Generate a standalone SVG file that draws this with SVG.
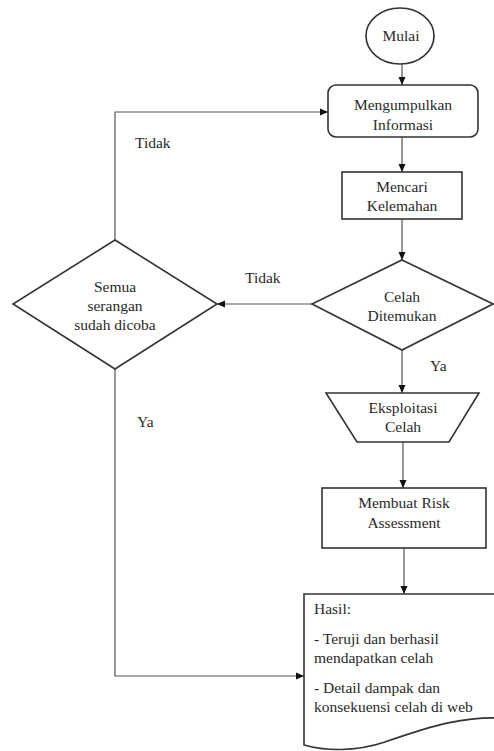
<svg xmlns="http://www.w3.org/2000/svg" width="494" height="751" viewBox="0 0 494 751" font-family="'Liberation Serif', 'Times New Roman', Tinos, 'DejaVu Serif', serif" font-size="15.5">
<style>
.s{fill:#fff;stroke:#333;stroke-width:1.6}
.c{fill:none;stroke:#555;stroke-width:1.2}
.t{fill:#2a2a2a}
.m{text-anchor:middle}
</style>
<defs>
<marker id="a" viewBox="0 0 8 8" refX="8" refY="4" markerWidth="8" markerHeight="8" markerUnits="userSpaceOnUse" orient="auto">
<path d="M0,0.5 L8,4 L0,7.5 Z" fill="#111"/>
</marker>
</defs>
<rect width="494" height="751" fill="#fff"/>
<g id="connectors">
<line class="c" x1="402" y1="64" x2="402" y2="85" marker-end="url(#a)"/>
<line class="c" x1="402" y1="137" x2="402" y2="172" marker-end="url(#a)"/>
<line class="c" x1="402" y1="219" x2="402" y2="260" marker-end="url(#a)"/>
<line class="c" x1="312" y1="304" x2="217" y2="304" marker-end="url(#a)"/>
<line class="c" x1="402" y1="350" x2="402" y2="393" marker-end="url(#a)"/>
<line class="c" x1="403" y1="442" x2="403" y2="488" marker-end="url(#a)"/>
<line class="c" x1="404" y1="548" x2="404" y2="594" marker-end="url(#a)"/>
<polyline class="c" points="115,240 115,112 328,112" marker-end="url(#a)"/>
<polyline class="c" points="115,369 115,676 304,676" marker-end="url(#a)"/>
<text class="t" x="135" y="148">Tidak</text>
<text class="t" x="245" y="283">Tidak</text>
<text class="t" x="430" y="371">Ya</text>
<text class="t" x="137" y="427">Ya</text>
</g>
<g id="mulai">
<ellipse class="s" cx="400" cy="36" rx="34" ry="28"/>
<text class="t m" x="401" y="41">Mulai</text>
</g>
<g id="mengumpulkan">
<rect class="s" x="328" y="85" width="150" height="52" rx="8"/>
<text class="t m" x="403" y="110">Mengumpulkan</text>
<text class="t m" x="403" y="130">Informasi</text>
</g>
<g id="mencari">
<rect class="s" x="342" y="172" width="120" height="47"/>
<text class="t m" x="402" y="192">Mencari</text>
<text class="t m" x="402" y="211">Kelemahan</text>
</g>
<g id="celah">
<polygon class="s" points="402,260 493,304 402,350 312,304"/>
<text class="t m" x="402" y="302">Celah</text>
<text class="t m" x="402" y="321">Ditemukan</text>
</g>
<g id="semua">
<polygon class="s" points="115,240 217,304 115,369 13,304"/>
<text class="t m" x="115" y="292">Semua</text>
<text class="t m" x="115" y="311">serangan</text>
<text class="t m" x="115" y="330">sudah dicoba</text>
</g>
<g id="eksploitasi">
<polygon class="s" points="326,393 479,393 449,442 357,442"/>
<text class="t m" x="403" y="413">Eksploitasi</text>
<text class="t m" x="403" y="432">Celah</text>
</g>
<g id="risk">
<rect class="s" x="322" y="488" width="164" height="60"/>
<text class="t m" x="404" y="508">Membuat Risk</text>
<text class="t m" x="404" y="528">Assessment</text>
</g>
<g id="hasil">
<path class="s" d="M304,594 H520 V720 C470,712 425,728 385,742 C355,752 325,751 304,745 Z"/>
<text class="t" x="314" y="614">Hasil:</text>
<text class="t" x="314" y="644">- Teruji dan berhasil</text>
<text class="t" x="314" y="663">mendapatkan celah</text>
<text class="t" x="314" y="693">- Detail dampak dan</text>
<text class="t" x="314" y="712">konsekuensi celah di web</text>
</g>
</svg>
